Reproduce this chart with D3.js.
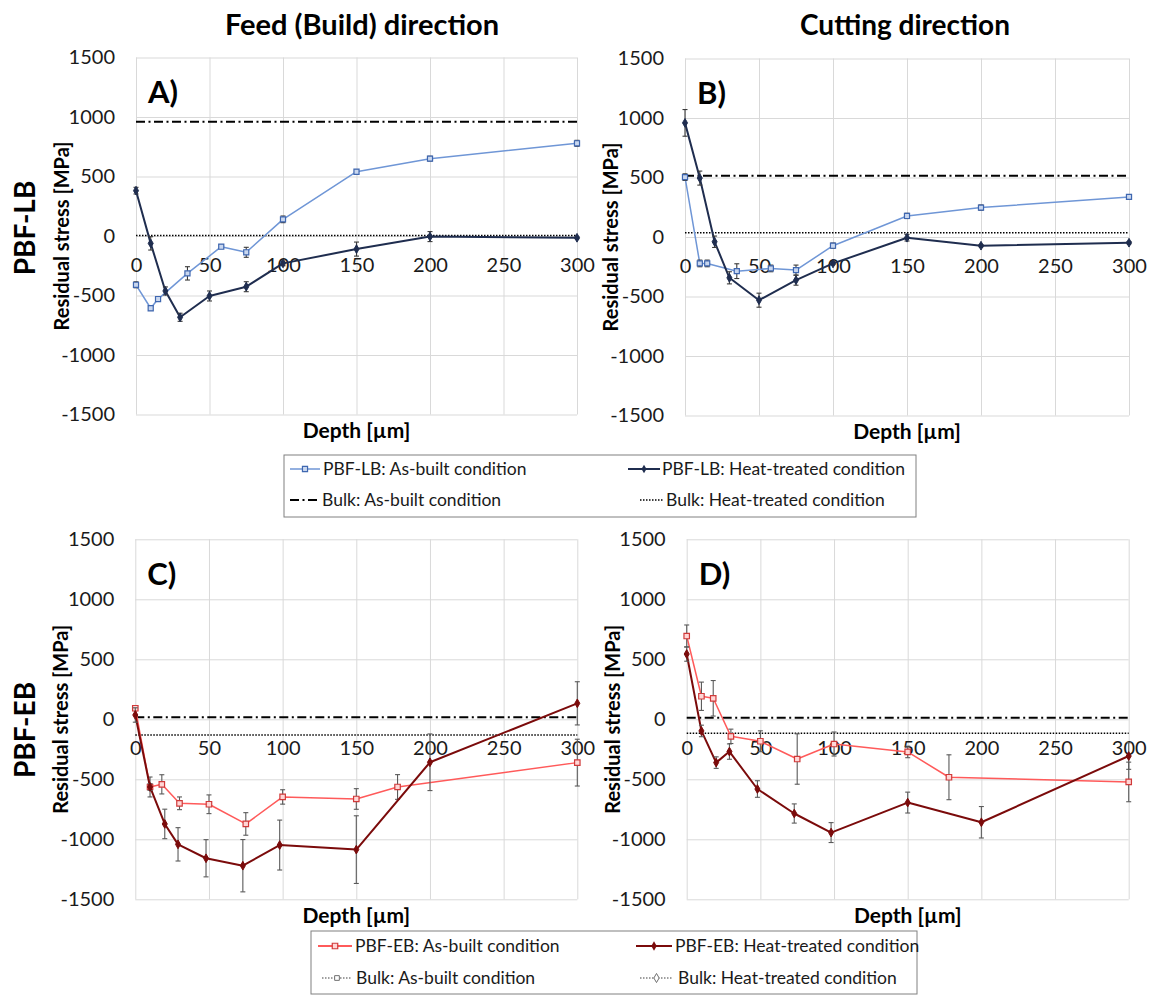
<!DOCTYPE html>
<html>
<head>
<meta charset="utf-8">
<script src="https://cdn.jsdelivr.net/npm/d3@7"></script>
<style>
  html, body { margin: 0; padding: 0; background: #ffffff; }
  svg { display: block; font-family: Lato, "Open Sans", sans-serif; }
</style>
</head>
<body>
<svg id="chart" width="1149" height="995"></svg>
<script>
// ---- Depth positions (µm) of each measurement series ----
const depthLBAsBuilt = [0, 10, 15, 35, 58, 75, 100, 150, 200, 300];
const depthLBHeat    = [0, 10, 20, 30, 50, 75, 100, 150, 200, 300];
const depthEBAsBuilt = [0, 10, 18, 30, 50, 75, 100, 150, 178, 300];
const depthEBHeat    = [0, 10, 20, 29, 48, 73, 98, 150, 200, 300];

// ---- A) PBF-LB, feed (build) direction, residual stress (MPa) ----
const feedLBAsBuilt    = [-410, -607, -530, -314, -90, -137, 140, 540, 650, 779];
const feedLBAsBuiltErr = [25, 15, 15, 56, 15, 42, 28, 15, 20, 25];
const feedLBHeat       = [381, -62, -462, -683, -504, -426, -230, -110, -5, -15];
const feedLBHeatErr    = [28, 56, 34, 34, 42, 42, 20, 59, 42, 8];
const feedLBBulk       = [960, 5];   // as-built, heat-treated

// ---- B) PBF-LB, cutting direction ----
const cutLBAsBuilt    = [503, -222, -222, -287, -264, -278, -73, 177, 247, 337];
const cutLBAsBuiltErr = [28, 28, 28, 62, 28, 42, 22, 22, 22, 14];
const cutLBHeat       = [959, 495, -40, -343, -531, -363, -222, -6, -73, -48];
const cutLBHeatErr    = [112, 59, 48, 51, 59, 42, 10, 28, 10, 10];
const cutLBBulk       = [514, 36];

// ---- C) PBF-EB, feed (build) direction ----
const feedEBAsBuilt    = [92, -564, -542, -700, -708, -872, -647, -664, -564, -361];
const feedEBAsBuiltErr = [20, 83, 80, 53, 78, 94, 60, 86, 103, 195];
const feedEBHeat       = [36, -564, -872, -1042, -1158, -1220, -1048, -1086, -358, 133];
const feedEBHeatErr    = [60, 28, 123, 139, 155, 218, 208, 282, 236, 180];
const feedEBBulk       = [17, -131];

// ---- D) PBF-EB, cutting direction ----
const cutEBAsBuilt    = [694, 192, 175, -142, -183, -331, -206, -272, -483, -522];
const cutEBAsBuiltErr = [92, 118, 148, 60, 87, 210, 100, 48, 187, 165];
const cutEBHeat       = [544, -97, -361, -269, -581, -785, -944, -694, -858, -306];
const cutEBHeatErr    = [60, 48, 48, 64, 69, 80, 83, 87, 131, 111];
const cutEBBulk       = [13, -117];

// ---- Axis ticks and labels ----
const xTicks = [0, 50, 100, 150, 200, 250, 300];
const yTicks = [-1500, -1000, -500, 0, 500, 1000, 1500];
const columnTitles = ["Feed (Build) direction", "Cutting direction"];
const rowTitles = ["PBF-LB", "PBF-EB"];
const panelLetters = ["A)", "B)", "C)", "D)"];
const xAxisTitle = "Depth [µm]";
const yAxisTitle = "Residual stress [MPa]";
const legendLB = ["PBF-LB: As-built condition", "PBF-LB: Heat-treated condition",
                  "Bulk: As-built condition", "Bulk: Heat-treated condition"];
const legendEB = ["PBF-EB: As-built condition", "PBF-EB: Heat-treated condition",
                  "Bulk: As-built condition", "Bulk: Heat-treated condition"];

// ---- Styles ----
const C = {
  lbAsBuilt: "#6f96d6", lbAsBuiltMarkFill: "#c9d7ef", lbAsBuiltMarkStroke: "#3f67b0",
  lbHeat: "#1f2d4f",
  ebAsBuilt: "#ff5a5a", ebAsBuiltMarkFill: "#ffd6d6", ebAsBuiltMarkStroke: "#d03a3a",
  ebHeat: "#7b0b0b",
  grid: "#d9d9d9", err: "#3a3a3a", errEB: "#5a5a5a"
};
const DASHDOT = "9,3.5,2,3.5";
const DOTTED = "1.5,1.5";
const plainNumber = d => String(d);   // plain hyphen-minus, as in the spreadsheet

const svg = d3.select("#chart");

const panels = [
  { x0: 136,   x1: 577,   y0: 57.5,  y1: 414.5, letter: panelLetters[0], kind: "LB",
    asX: depthLBAsBuilt, as: feedLBAsBuilt, asErr: feedLBAsBuiltErr,
    htX: depthLBHeat, ht: feedLBHeat, htErr: feedLBHeatErr, bulk: feedLBBulk },
  { x0: 685,   x1: 1129,  y0: 58.5,  y1: 415.5, letter: panelLetters[1], kind: "LB",
    asX: depthLBAsBuilt, as: cutLBAsBuilt, asErr: cutLBAsBuiltErr,
    htX: depthLBHeat, ht: cutLBHeat, htErr: cutLBHeatErr, bulk: cutLBBulk },
  { x0: 135.3, x1: 577.3, y0: 539.3, y1: 899.3, letter: panelLetters[2], kind: "EB",
    asX: depthEBAsBuilt, as: feedEBAsBuilt, asErr: feedEBAsBuiltErr,
    htX: depthEBHeat, ht: feedEBHeat, htErr: feedEBHeatErr, bulk: feedEBBulk },
  { x0: 686.7, x1: 1128.7, y0: 539.3, y1: 899.3, letter: panelLetters[3], kind: "EB",
    asX: depthEBAsBuilt, as: cutEBAsBuilt, asErr: cutEBAsBuiltErr,
    htX: depthEBHeat, ht: cutEBHeat, htErr: cutEBHeatErr, bulk: cutEBBulk }
];

const squareSym = d3.symbol().type(d3.symbolSquare);
const diamondSym = d3.symbol().type(d3.symbolDiamond);

function drawPanel(p) {
  const x = d3.scaleLinear().domain([0, 300]).range([p.x0, p.x1]);
  const y = d3.scaleLinear().domain([-1500, 1500]).range([p.y1, p.y0]);
  const g = svg.append("g");

  // gridlines
  g.append("g").attr("transform", `translate(0,${p.y1})`)
    .call(d3.axisBottom(x).tickValues(xTicks).tickSize(-(p.y1 - p.y0)).tickFormat(""))
    .call(a => a.select(".domain").remove())
    .call(a => a.selectAll("line").attr("stroke", C.grid).attr("stroke-width", 1));
  g.append("g").attr("transform", `translate(${p.x0},0)`)
    .call(d3.axisLeft(y).tickValues(yTicks).tickSize(-(p.x1 - p.x0)).tickFormat(""))
    .call(a => a.select(".domain").remove())
    .call(a => a.selectAll("line").attr("stroke", C.grid).attr("stroke-width", 1));

  // y tick labels
  g.append("g").attr("transform", `translate(${p.x0},0)`)
    .call(d3.axisLeft(y).tickValues(yTicks).tickSize(0).tickPadding(21).tickFormat(plainNumber))
    .call(a => a.select(".domain").remove())
    .call(a => a.selectAll("text").attr("font-size", 20).attr("fill", "#1a1a1a")
      .attr("font-family", "Lato, sans-serif"));

  // x tick labels, sitting below the zero line
  g.append("g").attr("transform", `translate(0,${y(0)})`)
    .call(d3.axisBottom(x).tickValues(xTicks).tickSize(0).tickFormat(plainNumber))
    .call(a => a.select(".domain").remove())
    .call(a => a.selectAll("text").attr("font-size", 20).attr("fill", "#1a1a1a")
      .attr("font-family", "Lato, sans-serif").attr("y", 29).attr("dy", "0.35em"));

  // axis titles
  g.append("text").attr("x", (p.x0 + p.x1) / 2).attr("y", p.y1 + 16)
    .attr("dy", "0.35em").attr("text-anchor", "middle")
    .attr("font-size", 21).attr("font-weight", "bold").text(xAxisTitle);
  const ym = (p.y0 + p.y1) / 2;
  g.append("text").attr("transform", `translate(${p.x0 - 74},${ym}) rotate(-90)`)
    .attr("dy", "0.35em").attr("text-anchor", "middle")
    .attr("font-size", 20).attr("font-weight", "bold").text(yAxisTitle);

  // panel letter
  g.append("text").attr("x", p.x0 + 12).attr("y", p.y0 + 35)
    .attr("dy", "0.35em").attr("font-size", 31).attr("font-weight", "bold").text(p.letter);

  // bulk reference lines
  g.append("line").attr("x1", x(0)).attr("x2", x(300))
    .attr("y1", y(p.bulk[0])).attr("y2", y(p.bulk[0]))
    .attr("stroke", "#000").attr("stroke-width", 2).attr("stroke-dasharray", DASHDOT);
  g.append("line").attr("x1", x(0)).attr("x2", x(300))
    .attr("y1", y(p.bulk[1])).attr("y2", y(p.bulk[1]))
    .attr("stroke", "#000").attr("stroke-width", 1.5).attr("stroke-dasharray", DOTTED);

  const isLB = p.kind === "LB";
  const asCol = isLB ? C.lbAsBuilt : C.ebAsBuilt;
  const htCol = isLB ? C.lbHeat : C.ebHeat;
  const errCol = isLB ? C.err : C.errEB;

  function series(xs, vs, es, color, width, marker) {
    const pts = xs.map((d, i) => ({ d, v: vs[i], e: es[i] }));
    const line = d3.line().x(q => x(q.d)).y(q => y(q.v));
    g.append("path").datum(pts).attr("d", line).attr("fill", "none")
      .attr("stroke", color).attr("stroke-width", width).attr("stroke-linejoin", "round");
    const eb = g.append("g").attr("stroke", errCol).attr("stroke-width", 1.1);
    pts.forEach(q => {
      const cx = x(q.d), top = y(q.v + q.e), bot = y(q.v - q.e);
      eb.append("line").attr("x1", cx).attr("x2", cx).attr("y1", top).attr("y2", bot);
      eb.append("line").attr("x1", cx - 2.5).attr("x2", cx + 2.5).attr("y1", top).attr("y2", top);
      eb.append("line").attr("x1", cx - 2.5).attr("x2", cx + 2.5).attr("y1", bot).attr("y2", bot);
    });
    g.append("g").selectAll("path").data(pts).join("path")
      .attr("transform", q => `translate(${x(q.d)},${y(q.v)})`)
      .each(function () { marker(d3.select(this)); });
  }

  const asMarker = isLB
    ? s => s.attr("d", squareSym.size(26)()).attr("fill", C.lbAsBuiltMarkFill)
        .attr("stroke", C.lbAsBuiltMarkStroke).attr("stroke-width", 1.2)
    : s => s.attr("d", squareSym.size(30)()).attr("fill", C.ebAsBuiltMarkFill)
        .attr("stroke", C.ebAsBuiltMarkStroke).attr("stroke-width", 1.2);
  const htMarker = s => s.attr("d", diamondSym.size(22)()).attr("fill", htCol).attr("stroke", htCol);

  series(p.asX, p.as, p.asErr, asCol, 1.5, asMarker);
  series(p.htX, p.ht, p.htErr, htCol, 2, htMarker);
}

panels.forEach(drawPanel);

// column and row headings
svg.append("text").attr("x", 362).attr("y", 25).attr("dy", "0.35em").attr("text-anchor", "middle")
  .attr("font-size", 29).attr("font-weight", "bold").text(columnTitles[0]);
svg.append("text").attr("x", 905).attr("y", 25).attr("dy", "0.35em").attr("text-anchor", "middle")
  .attr("font-size", 28).attr("font-weight", "bold").text(columnTitles[1]);
svg.append("text").attr("transform", "translate(25,228) rotate(-90)").attr("dy", "0.35em")
  .attr("text-anchor", "middle").attr("font-size", 28).attr("font-weight", "bold").text(rowTitles[0]);
svg.append("text").attr("transform", "translate(25,730) rotate(-90)").attr("dy", "0.35em")
  .attr("text-anchor", "middle").attr("font-size", 28).attr("font-weight", "bold").text(rowTitles[1]);

// legends
function legend(box, items) {
  const g = svg.append("g");
  g.append("rect").attr("x", box.x).attr("y", box.y).attr("width", box.w).attr("height", box.h)
    .attr("fill", "#fff").attr("stroke", "#808080").attr("stroke-width", 1);
  items.forEach(it => {
    const ly = it.y;
    g.append("line").attr("x1", it.s0).attr("x2", it.s1).attr("y1", ly).attr("y2", ly)
      .attr("stroke", it.color).attr("stroke-width", it.width)
      .attr("stroke-dasharray", it.dash || null);
    if (it.marker) {
      g.append("path").attr("transform", `translate(${(it.s0 + it.s1) / 2},${ly})`)
        .call(it.marker);
    }
    g.append("text").attr("x", it.tx).attr("y", ly).attr("dy", "0.35em")
      .attr("font-size", 17.5).attr("fill", "#1a1a1a").text(it.label);
  });
}

legend({ x: 284, y: 455, w: 632, h: 62 }, [
  { y: 469, s0: 290, s1: 320, tx: 323, label: legendLB[0], color: C.lbAsBuilt, width: 1.5,
    marker: s => s.attr("d", squareSym.size(26)()).attr("fill", C.lbAsBuiltMarkFill)
      .attr("stroke", C.lbAsBuiltMarkStroke).attr("stroke-width", 1.2) },
  { y: 469, s0: 628, s1: 660, tx: 662, label: legendLB[1], color: C.lbHeat, width: 2,
    marker: s => s.attr("d", diamondSym.size(22)()).attr("fill", C.lbHeat) },
  { y: 500, s0: 290, s1: 320, tx: 322, label: legendLB[2], color: "#000", width: 2, dash: DASHDOT },
  { y: 500, s0: 640, s1: 663, tx: 666, label: legendLB[3], color: "#000", width: 1.5, dash: DOTTED }
]);

legend({ x: 311, y: 931, w: 606, h: 63 }, [
  { y: 946, s0: 318, s1: 352, tx: 355, label: legendEB[0], color: C.ebAsBuilt, width: 2,
    marker: s => s.attr("d", squareSym.size(30)()).attr("fill", C.ebAsBuiltMarkFill)
      .attr("stroke", C.ebAsBuiltMarkStroke).attr("stroke-width", 1.2) },
  { y: 946, s0: 636, s1: 672, tx: 675, label: legendEB[1], color: C.ebHeat, width: 2,
    marker: s => s.attr("d", diamondSym.size(26)()).attr("fill", C.ebHeat) },
  { y: 978, s0: 322, s1: 352, tx: 356, label: legendEB[2], color: "#404040", width: 1.2, dash: DOTTED,
    marker: s => s.attr("d", squareSym.size(22)()).attr("fill", "#fff")
      .attr("stroke", "#707070").attr("stroke-width", 1) },
  { y: 978, s0: 640, s1: 673, tx: 678, label: legendEB[3], color: "#404040", width: 1.2, dash: DOTTED,
    marker: s => s.attr("d", diamondSym.size(24)()).attr("fill", "#fff")
      .attr("stroke", "#707070").attr("stroke-width", 1) }
]);
</script>
</body>
</html>
